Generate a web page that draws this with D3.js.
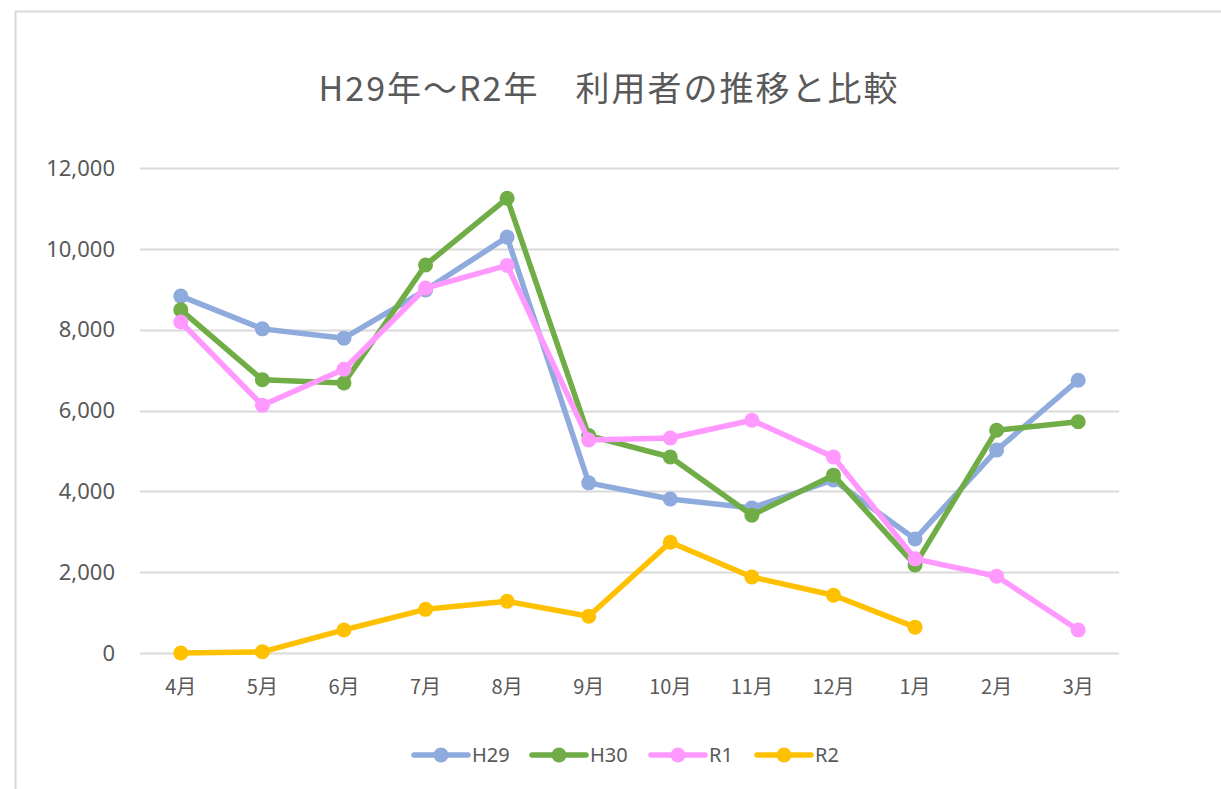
<!DOCTYPE html>
<html>
<head>
<meta charset="utf-8">
<script src="https://cdn.jsdelivr.net/npm/d3@7"></script>
<style>
  body { margin: 0; background: #fff; }
  svg { display: block; font-family: "Noto Sans CJK JP", "Noto Sans", sans-serif; }
</style>
</head>
<body>
<svg id="chart" width="1221" height="789"></svg>
<script>
// data
const months = ['4月', '5月', '6月', '7月', '8月', '9月', '10月', '11月', '12月', '1月', '2月', '3月'];
const h29 = [8830, 8020, 7790, 8980, 10290, 4210, 3810, 3590, 4280, 2820, 5020, 6750];
const h30 = [8490, 6760, 6680, 9600, 11250, 5380, 4850, 3410, 4400, 2180, 5510, 5720];
const r1 = [8190, 6130, 7020, 9030, 9590, 5270, 5320, 5760, 4850, 2330, 1900, 570];
const r2 = [0, 30, 570, 1080, 1280, 910, 2740, 1880, 1430, 640];
const yTicks = [0, 2000, 4000, 6000, 8000, 10000, 12000];

const seriesNames = ['H29', 'H30', 'R1', 'R2'];
const seriesColors = ['#8faadc', '#70ad47', '#ff99ff', '#ffc000'];
const seriesValues = [h29, h30, r1, r2];

const svg = d3.select('#chart');
const width = +svg.attr('width');
const height = +svg.attr('height');

// chart frame (only left and top edges visible in the picture)
svg.append('path')
    .attr('d', 'M15.5,789 V11.5 H1221')
    .attr('fill', 'none')
    .attr('stroke', '#d9d9d9')
    .attr('stroke-width', 2);

const margin = { top: 168, right: 102, bottom: 136, left: 140 };
const innerWidth = width - margin.left - margin.right;
const innerHeight = height - margin.top - margin.bottom;

const xScale = d3.scaleBand()
    .domain(months)
    .range([0, innerWidth]);

const yScale = d3.scaleLinear()
    .domain([0, 12000])
    .range([innerHeight, 0]);

const xCenter = m => xScale(m) + xScale.bandwidth() / 2;

const g = svg.append('g')
    .attr('transform', 'translate(' + margin.left + ',' + margin.top + ')');

// title
svg.append('text')
    .attr('x', 609)
    .attr('y', 101)
    .attr('text-anchor', 'middle')
    .attr('font-size', 34)
    .style('letter-spacing', '2px')
    .attr('fill', '#595959')
    .text('H29年～R2年　利用者の推移と比較');

// gridlines
g.append('g')
    .selectAll('line')
    .data(yTicks)
    .enter()
    .append('line')
    .attr('x1', 0)
    .attr('x2', innerWidth)
    .attr('y1', d => Math.round(yScale(d)) + 0.5)
    .attr('y2', d => Math.round(yScale(d)) + 0.5)
    .attr('stroke', '#d9d9d9')
    .attr('stroke-width', 2);

// Y tick labels
g.append('g')
    .selectAll('text')
    .data(yTicks)
    .enter()
    .append('text')
    .attr('x', -25)
    .attr('y', d => yScale(d))
    .attr('dy', '0.35em')
    .attr('text-anchor', 'end')
    .attr('font-size', 22)
    .attr('font-family', '"Noto Sans", sans-serif')
    .attr('fill', '#595959')
    .text(d3.format(','));

// X tick labels
g.append('g')
    .selectAll('text')
    .data(months)
    .enter()
    .append('text')
    .attr('x', xCenter)
    .attr('y', innerHeight + 27)
    .attr('dy', '0.71em')
    .attr('text-anchor', 'middle')
    .attr('font-size', 20)
    .attr('fill', '#595959')
    .text(d => d);

const line = d3.line()
    .x((d, i) => xCenter(months[i]))
    .y(d => yScale(d));

// series lines and markers
seriesValues.forEach((vals, s) => {
  g.append('path')
      .datum(vals)
      .attr('fill', 'none')
      .attr('stroke', seriesColors[s])
      .attr('stroke-width', 5.5)
      .attr('stroke-linejoin', 'round')
      .attr('stroke-linecap', 'round')
      .attr('d', line);

  g.append('g')
      .selectAll('circle')
      .data(vals)
      .enter()
      .append('circle')
      .attr('cx', (d, i) => xCenter(months[i]))
      .attr('cy', d => yScale(d))
      .attr('r', 7.5)
      .attr('fill', seriesColors[s]);
});

// legend
const legendX = [414, 532, 651, 757];
const legend = svg.append('g')
    .attr('transform', 'translate(0,755)');

seriesNames.forEach((name, s) => {
  const item = legend.append('g')
      .attr('transform', 'translate(' + legendX[s] + ',0)');
  item.append('line')
      .attr('x1', 0)
      .attr('x2', 54)
      .attr('stroke', seriesColors[s])
      .attr('stroke-width', 5.5)
      .attr('stroke-linecap', 'round');
  item.append('circle')
      .attr('cx', 27)
      .attr('r', 7.5)
      .attr('fill', seriesColors[s]);
  item.append('text')
      .attr('x', 58)
      .attr('dy', '0.35em')
      .attr('font-size', 20)
      .attr('fill', '#595959')
      .attr('font-family', '"Noto Sans", sans-serif')
      .text(name);
});
</script>
</body>
</html>
